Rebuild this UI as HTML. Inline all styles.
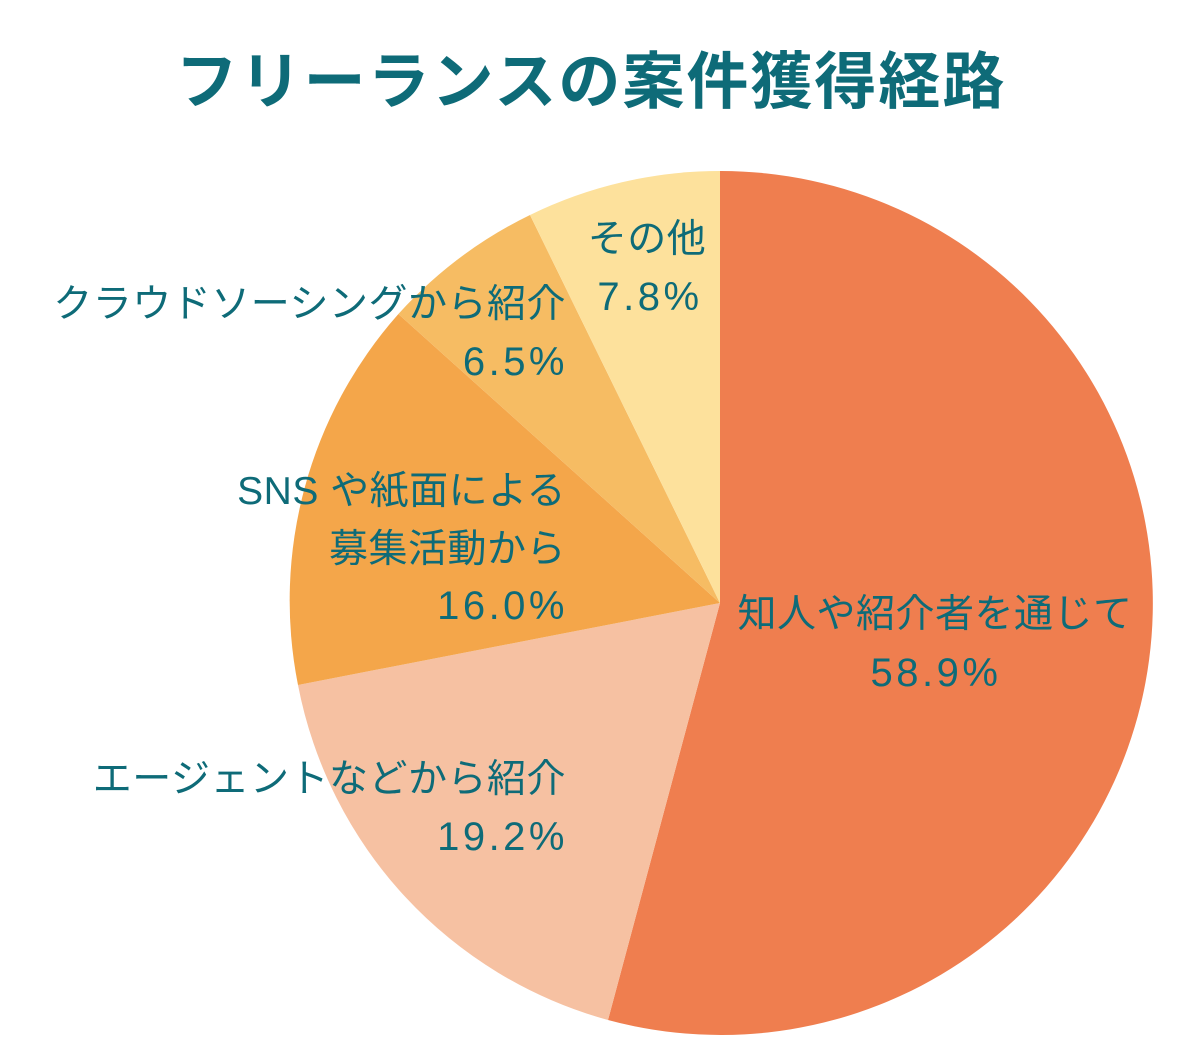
<!DOCTYPE html>
<html><head><meta charset="utf-8"><style>
html,body{margin:0;padding:0;background:#fff;width:1200px;height:1058px;overflow:hidden}
text{font-family:"Liberation Sans","Noto Sans CJK JP",sans-serif;fill:#0E6B78}
.l{font-size:39px;letter-spacing:0.5px}
.n{font-size:40px;letter-spacing:3.5px}
</style></head><body>
<svg width="1200" height="1058" viewBox="0 0 1200 1058" xmlns="http://www.w3.org/2000/svg">
<text x="591" y="103" text-anchor="middle" font-size="62" font-weight="bold" letter-spacing="2" fill="#0E6B78">フリーランスの案件獲得経路</text>
<g transform="translate(720,603)">
<path d="M0,0 L0,-432 A432,432 0 1 1 -112,417 Z" fill="#EF7E4F"/>
<path d="M0,0 L-112,417 A432,432 0 0 1 -422,82 Z" fill="#F6C1A2"/>
<path d="M0,0 L-422,82 A432,432 0 0 1 -321.6,-289 Z" fill="#F4A64A"/>
<path d="M0,0 L-321.6,-289 A432,432 0 0 1 -190,-388 Z" fill="#F6BC63"/>
<path d="M0,0 L-190,-388 A432,432 0 0 1 0,-432 Z" fill="#FDE19C"/>
</g>
<text class="l" x="935" y="627" text-anchor="middle">知人や紹介者を通じて</text>
<text class="n" x="936" y="686" text-anchor="middle">58.9%</text>
<text class="l" x="647" y="252" text-anchor="middle">その他</text>
<text class="n" x="650" y="310" text-anchor="middle">7.8%</text>
<text class="l" x="566" y="317" text-anchor="end">クラウドソーシングから紹介</text>
<text class="n" x="568" y="375" text-anchor="end">6.5%</text>
<text class="l" x="566" y="504" text-anchor="end">SNS や紙面による</text>
<text class="l" x="566" y="562" text-anchor="end">募集活動から</text>
<text class="n" x="568" y="619" text-anchor="end">16.0%</text>
<text class="l" x="566" y="792" text-anchor="end">エージェントなどから紹介</text>
<text class="n" x="568" y="850" text-anchor="end">19.2%</text>
</svg>
</body></html>
